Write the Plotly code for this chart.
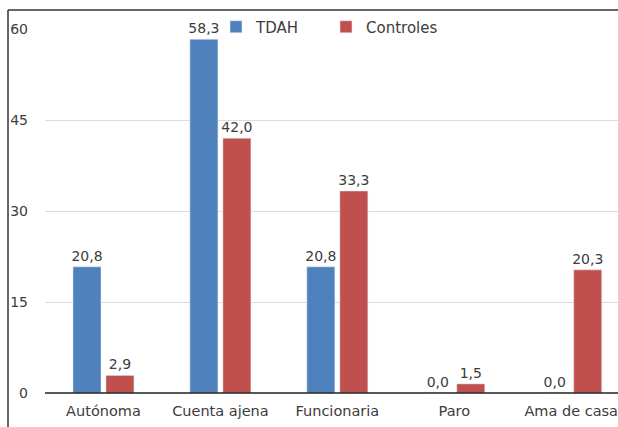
import plotly.graph_objects as go

categories = ["Autónoma", "Cuenta ajena", "Funcionaria", "Paro", "Ama de casa"]
tdah = [20.8, 58.3, 20.8, 0.0, 0.0]
controles = [2.9, 42.0, 33.3, 1.5, 20.3]
y_ticks = [0, 15, 30, 45, 60]

W, H = 618, 427
L, R, T, B = 45, 0, 29, 34
pw, ph = W - L - R, H - T - B

def px_x(x):
    return (x - L) / pw

def px_y(y):
    return (H - B - y) / ph

font_fam = "DejaVu Sans"
txt_col = "#3c3c3c"

fig = go.Figure()
fig.add_trace(go.Bar(name="TDAH", x=categories, y=tdah, marker_color="#4F81BD",
                     texttemplate="%{y:.1f}", textposition="outside", cliponaxis=False,
                     constraintext="none",
                     textfont=dict(size=14, color=txt_col, family=font_fam),
                     legend="legend"))
fig.add_trace(go.Bar(name="Controles", x=categories, y=controles, marker_color="#C0504D",
                     texttemplate="%{y:.1f}", textposition="outside", cliponaxis=False,
                     constraintext="none",
                     textfont=dict(size=14, color=txt_col, family=font_fam),
                     legend="legend2"))

leg_common = dict(orientation="h", xanchor="left", yanchor="middle",
                  bgcolor="rgba(0,0,0,0)", font=dict(size=15, color=txt_col, family=font_fam))

fig.update_layout(
    width=W, height=H,
    margin=dict(l=L, r=R, t=T, b=B, autoexpand=False),
    separators=",.",
    barmode="group", bargap=0.436, bargroupgap=0.15,
    plot_bgcolor="white", paper_bgcolor="white",
    font=dict(family=font_fam, size=14, color=txt_col),
    showlegend=True,
    legend=dict(x=px_x(216), y=px_y(27), **leg_common),
    legend2=dict(x=px_x(326), y=px_y(27), **leg_common),
    xaxis=dict(range=[-0.5, 4.4], showgrid=False, showline=False, ticks="",
               ticklabelstandoff=7,
               tickfont=dict(size=14.5, color=txt_col), fixedrange=True),
    yaxis=dict(range=[0, 60], tickvals=y_ticks, showgrid=True, gridcolor="#dcdcdc",
               gridwidth=1, zeroline=False, showline=False, ticks="",
               ticklabelstandoff=16, tickfont=dict(size=14, color=txt_col)),
    shapes=[
        dict(type="line", xref="paper", yref="paper", x0=0, x1=1.05, y0=0, y1=0,
             line=dict(color="#222222", width=1.5)),
        dict(type="line", xref="paper", yref="paper", x0=px_x(8), x1=px_x(8), y0=px_y(10), y1=-0.3,
             line=dict(color="#333333", width=1.5)),
        dict(type="line", xref="paper", yref="paper", x0=px_x(8), x1=1.05, y0=px_y(10), y1=px_y(10),
             line=dict(color="#333333", width=1.5)),
    ],
)

fig.write_html("out.html", config={"displayModeBar": False},
               post_script="document.body.style.margin='0px';document.body.style.overflow='hidden';")
